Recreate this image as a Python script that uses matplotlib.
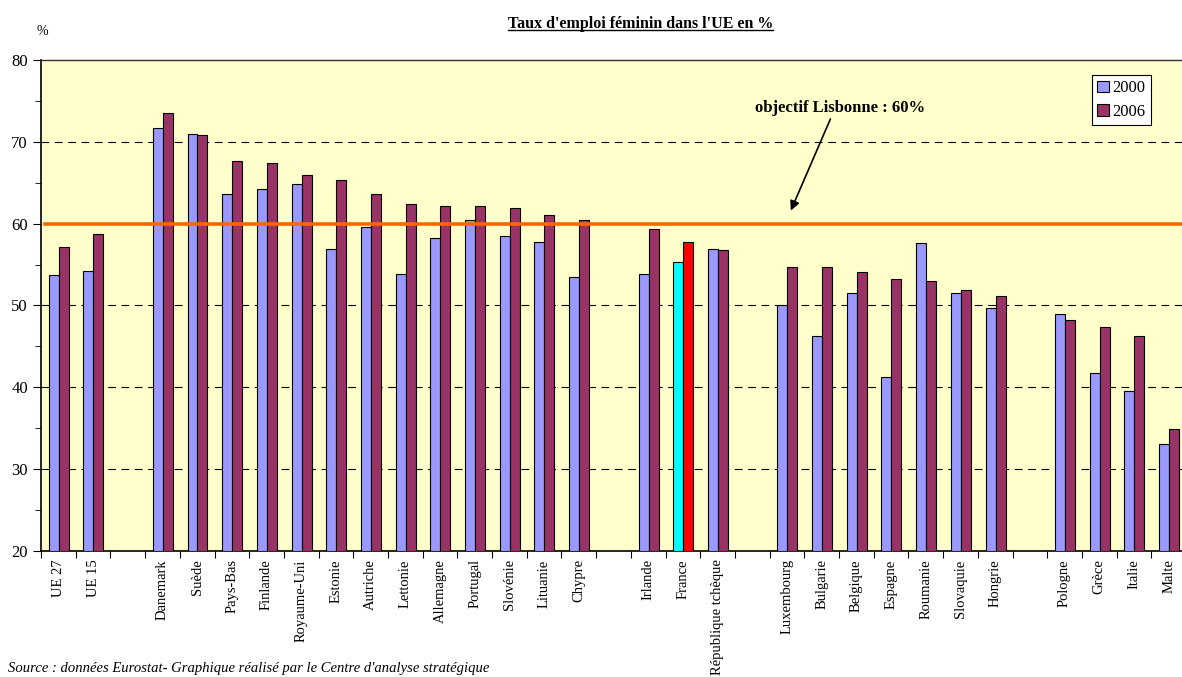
import numpy as np
import matplotlib.pyplot as plt
from matplotlib.ticker import FixedLocator, MultipleLocator

plt.rcParams['font.family'] = ['Liberation Serif', 'DejaVu Serif']

# groups of countries, an empty slot is left between consecutive groups
group_sizes = [2, 13, 3, 7, 4]
categories = ['UE 27', 'UE 15',
              'Danemark', 'Suède', 'Pays-Bas', 'Finlande', 'Royaume-Uni', 'Estonie',
              'Autriche', 'Lettonie', 'Allemagne', 'Portugal', 'Slovénie', 'Lituanie', 'Chypre',
              'Irlande', 'France', 'République tchèque',
              'Luxembourg', 'Bulgarie', 'Belgique', 'Espagne', 'Roumanie', 'Slovaquie', 'Hongrie',
              'Pologne', 'Grèce', 'Italie', 'Malte']
rate_2000 = [53.7, 54.2,
             71.7, 71.0, 63.6, 64.2, 64.8, 56.9, 59.6, 53.8, 58.2, 60.5, 58.5, 57.8, 53.5,
             53.9, 55.3, 56.9,
             50.1, 46.3, 51.5, 41.3, 57.6, 51.5, 49.7,
             48.9, 41.7, 39.6, 33.1]
rate_2006 = [57.2, 58.7,
             73.5, 70.8, 67.7, 67.4, 65.9, 65.3, 63.6, 62.4, 62.2, 62.1, 61.9, 61.1, 60.4,
             59.3, 57.7, 56.8,
             54.7, 54.7, 54.1, 53.2, 53.0, 51.9, 51.1,
             48.2, 47.4, 46.3, 34.9]
target = 60

# slot positions with gaps
positions = []
slot = 0
for size in group_sizes:
    positions.extend(range(slot, slot + size))
    slot += size + 1
n_slots = slot - 1
x = np.array(positions, dtype=float)

col_2000 = ['#9999FF'] * len(categories)
col_2006 = ['#993366'] * len(categories)
fr = categories.index('France')
col_2000[fr] = '#00FFFF'
col_2006[fr] = '#FF0000'

fig = plt.figure(figsize=(11.82, 6.77), dpi=100)
ax = fig.add_axes([0.0347, 0.1861, 0.9687, 0.7253])
ax.set_facecolor('#FFFFCC')

w = 0.288
ax.bar(x - w / 2 + 0.01, np.array(rate_2000) - 20, width=w, bottom=20, color=col_2000,
       edgecolor='black', linewidth=0.8, label='2000', zorder=3)
ax.bar(x + w / 2 + 0.01, np.array(rate_2006) - 20, width=w, bottom=20, color=col_2006,
       edgecolor='black', linewidth=0.8, label='2006', zorder=3)

ax.set_xlim(-0.5, n_slots - 0.5)
ax.set_ylim(20, 80)

# gridlines & target line
for g in [30, 40, 50, 70]:
    ax.axhline(g, color='black', linestyle=(0, (7, 5)), linewidth=0.8, zorder=1)
ax.plot([-0.38, n_slots - 0.5], [target, target], color='#FF6600', linewidth=2.6, zorder=4)

ax.yaxis.set_major_locator(MultipleLocator(10))
ax.yaxis.set_minor_locator(MultipleLocator(5))
ax.tick_params(axis='y', which='major', length=6, labelsize=12, direction='out')
ax.tick_params(axis='y', which='minor', length=4, direction='out')

ax.xaxis.set_major_locator(FixedLocator(np.arange(-0.5, n_slots, 1.0)))
ax.xaxis.set_major_formatter(plt.NullFormatter())
ax.xaxis.set_minor_locator(FixedLocator(x))
ax.set_xticklabels(categories, minor=True, rotation=90, fontsize=10.5, va='top')
ax.tick_params(axis='x', which='major', length=5, direction='out')
ax.tick_params(axis='x', which='minor', length=0, pad=6)

for side in ['top', 'right']:
    ax.spines[side].set_linewidth(1.0)
    ax.spines[side].set_color('#333333')
ax.spines['left'].set_linewidth(1.2)
ax.spines['bottom'].set_linewidth(1.2)

ax.annotate('objectif Lisbonne : 60%', xy=(21.11, 61.6), xytext=(22.53, 74.1),
            ha='center', va='center', fontsize=12, fontweight='bold',
            arrowprops=dict(arrowstyle='-|>', color='black', lw=1.2,
                            shrinkA=0, shrinkB=0, mutation_scale=14,
                            relpos=(0.45, 0)),
            zorder=5)

leg = ax.legend(loc='upper right', bbox_to_anchor=(0.969, 0.969), fontsize=12,
                frameon=True, fancybox=False, edgecolor='black', framealpha=1,
                handlelength=0.7, handleheight=0.7, handletextpad=0.2,
                borderpad=0.3, labelspacing=0.45, borderaxespad=0)
leg.get_frame().set_linewidth(0.8)

title = fig.text(0.542, 0.965, "Taux d'emploi féminin dans l'UE en %", ha='center', va='center',
                 fontsize=11.5, fontweight='bold')
fig.text(0.031, 0.953, '%', ha='left', va='center', fontsize=10)
fig.text(0.007, 0.003, "Source : données Eurostat- Graphique réalisé par le Centre d'analyse stratégique",
         ha='left', va='bottom', fontsize=10.5, style='italic')

# underline the title
fig.canvas.draw()
bb = title.get_window_extent().transformed(fig.transFigure.inverted())
fig.add_artist(plt.Line2D([bb.x0, bb.x1], [bb.y0 + 0.002, bb.y0 + 0.002],
                          color='black', linewidth=1, transform=fig.transFigure))

fig.savefig('out.png', dpi=100)
